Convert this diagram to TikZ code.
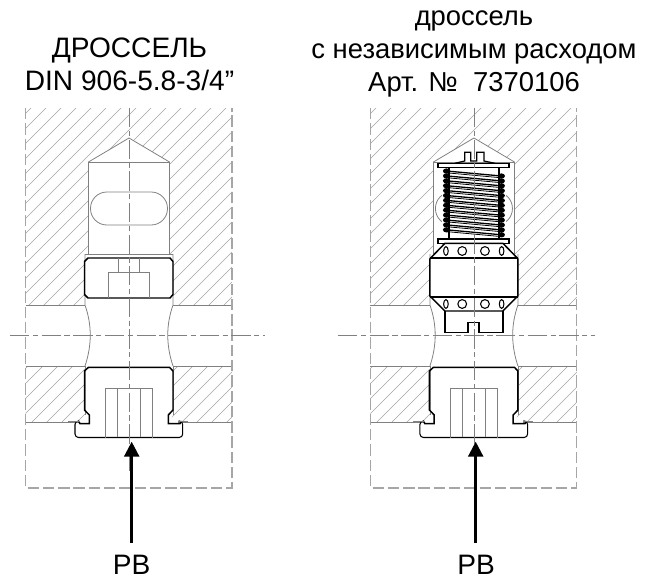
\documentclass[tikz,border=0pt]{standalone}
\usepackage{fontspec}
\setmainfont{Liberation Sans}
\usetikzlibrary{arrows.meta}

\tikzset{
  hatchline/.style={color=black!36,line width=0.3pt},
  thinline/.style={color=black!50,line width=0.45pt},
  boldline/.style={color=black,line width=0.85pt},
  axisline/.style={color=black!50,line width=0.45pt,dash pattern=on 11pt off 2pt on 3pt off 2pt},
  frameline/.style={color=black!35,line width=0.6pt,dash pattern=on 6.5pt off 2.2pt},
  pbarrow/.style={-{Triangle[length=8.5pt,width=8.5pt]},color=black,line width=1.4pt},
  titletext/.style={align=center,inner sep=0pt,font=\fontsize{16}{18.6}\selectfont},
  pblabel/.style={inner sep=1pt,font=\fontsize{16}{18}\selectfont}
}

% housing of one valve: hatching, bore, frame and axes
\newcommand{\housing}{
  \begin{scope}
    \clip (25.5,108) -- (232,108) -- (232,305) -- (173,305) -- (173,254) -- (169.5,254) -- (169.5,162) -- (129,138) -- (88.5,162) -- (88.5,254) -- (85,254) -- (85,305) -- (25.5,305) -- cycle
          (25.5,366) -- (85,366) -- (85,415) -- (88,422) -- (25.5,422) -- cycle
          (173,366) -- (232,366) -- (232,422) -- (170,422) -- (173,415) -- cycle;
    \foreach \k in {0,...,36}
      \draw[hatchline] ({4+15*(\k+9)},0) -- ({4+15*(\k+9)-600},600);
  \end{scope}
  %bore
  \draw[thinline] (88.5,254) -- (88.5,162) -- (129,138) -- (169.5,162) -- (169.5,254);
  \draw[thinline] (88.5,162) -- (169.5,162);
  %neck
  \draw[thinline] (85,254) -- (85,305) .. controls (92,325) and (92,345) .. (85,366);
  \draw[thinline] (173,254) -- (173,305) .. controls (166,325) and (166,345) .. (173,366);
  %walls
  \draw[thinline] (25.5,305) -- (85,305) (173,305) -- (232,305);
  \draw[thinline] (25.5,366) -- (85,366) (173,366) -- (232,366);
  \draw[thinline] (25.5,422) -- (80,422) (178,422) -- (232,422);
  \draw[thinline] (85,366) -- (85,415) (173,366) -- (173,415);
  %frame
  \draw[frameline] (25.5,108) -- (25.5,488) -- (232,488) -- (232,108);
  %oval port
  \draw[thinline,rounded corners=9.3pt] (90.5,192) rectangle (167.5,225);
}

% plug at the bottom, same in both
\newcommand{\plug}{
  \draw[boldline] (78.5,421) -- (80,423.7) -- (89.3,423.7) -- (89.3,415) -- (84.5,410) -- (84.5,371) -- (88.5,367.3) -- (169.5,367.3) -- (173,371) -- (173,410) -- (168.3,415) -- (168.3,423.7) -- (180,423.7) -- (181.5,421);
  \draw[boldline,line width=0.6pt,rounded corners=2pt] (79,421) -- (75,421) -- (75,437.5) -- (182.7,437.5) -- (182.7,421) -- (178.5,421);
  \draw[thinline] (68.3,421) -- (80,421) (178,421) -- (188,421);
  \draw[thinline] (105.7,437.5) -- (105.7,388.3) -- (152,388.3) -- (152,437.5);
  \draw[thinline] (117.3,388.3) -- (117.3,437.5) (140.3,388.3) -- (140.3,437.5);
  \draw[boldline,line width=0.8pt] (105.7,437.5) -- (152,437.5);
}

\begin{document}
\begin{tikzpicture}[x=0.02cm,y=-0.02cm]
\useasboundingbox (0,0) rectangle (646,578);

%left valve
\housing
\plug
\draw[thinline] (85,254) -- (173,254);
%nut
\draw[boldline] (88,258) -- (170,258) -- (173,261.5) -- (173,294.5) -- (170,298) -- (88,298) -- (84.5,294.5) -- (84.5,261.5) -- cycle;
\draw[thinline] (118,258) -- (118,272) (139.5,258) -- (139.5,272);
\draw[thinline] (108.5,298) -- (108.5,272) -- (149,272) -- (149,298);
\draw[axisline] (129,108) -- (129,471);
\draw[axisline] (10,335.5) -- (265,335.5);

%right valve
\begin{scope}[xshift=6.9cm]
\housing
\plug
%spring
\fill[white] (97,168) rectangle (161,238);
\draw[boldline] (104,167) -- (104,239) (154,167) -- (154,239);
\foreach \n in {0,...,12}{
  \draw[color=black,line width=0.75pt] (101.5,{171+4.9*\n}) -- (156.5,{176+4.9*\n});
  \draw[color=black,line width=0.45pt] (101.5,{172.8+4.9*\n}) -- (156.5,{177.8+4.9*\n});
  \fill (101.5,{171+4.9*\n}) ellipse (2pt and 1.5pt);
  \fill (156.5,{176+4.9*\n}) ellipse (2pt and 1.5pt);
}
%spring cap
\draw[boldline,fill=white] (93.3,163.3) rectangle (164.3,167.3);
\draw[boldline,fill=white] (93.3,239) rectangle (164.3,243.3);
\draw[boldline,line width=0.7pt] (110,163.3) -- (119.7,161) -- (119.7,152.3) -- (125.7,152.3) -- (125.7,161) -- (131.7,161) -- (131.7,152.3) -- (139,152.3) -- (139,161) -- (150,163.3);
%cartridge
\draw[boldline,fill=white] (100,243.3) -- (158,243.3) -- (172,257.7) -- (173,259) -- (173,296) -- (172,297) -- (158,311) -- (100,311) -- (86,297) -- (85,296) -- (85,259) -- (86,257.7) -- cycle;
\draw[boldline] (85,258) -- (173,258) (85,297) -- (173,297);
\foreach \rowy in {251,304}{
  \draw[boldline,line width=0.6pt] (101,\rowy) ellipse (1.3pt and 2.5pt);
  \draw[boldline,line width=0.6pt] (117.3,\rowy) circle (2.5pt);
  \draw[boldline,line width=0.6pt] (140,\rowy) circle (2.5pt);
  \draw[boldline,line width=0.6pt] (156.7,\rowy) ellipse (1.3pt and 2.5pt);
}
\draw[boldline] (100,311) -- (100,332.7) -- (123.3,332.7) -- (123.3,322.7) -- (134.3,322.7) -- (134.3,332.7) -- (158.3,332.7) -- (158.3,311);
\draw[axisline] (129,108) -- (129,471);
\draw[axisline] (-7,335.5) -- (250,335.5);
\end{scope}

%titles
\node[titletext] (titleA) at (129.5,64) {ДРОССЕЛЬ\\DIN 906-5.8-3/4”};
\node[titletext,font=\fontsize{15.6}{18.6}\selectfont] (titleB) at (474,54) {дроссель\\с независимым расходом\\Арт. №~~7370106};

%inlet arrows
\node[pblabel] (pbA) at (131.5,565) {PB};
\node[pblabel] (pbB) at (476,565) {PB};
\coordinate (tipA) at (131.7,441.7);
\coordinate (tipB) at (475.7,441.7);
\draw[pbarrow,shorten <=6pt] (pbA.north -| tipA) -- (tipA);
\draw[pbarrow,shorten <=6pt] (pbB.north -| tipB) -- (tipB);

\end{tikzpicture}
\end{document}
